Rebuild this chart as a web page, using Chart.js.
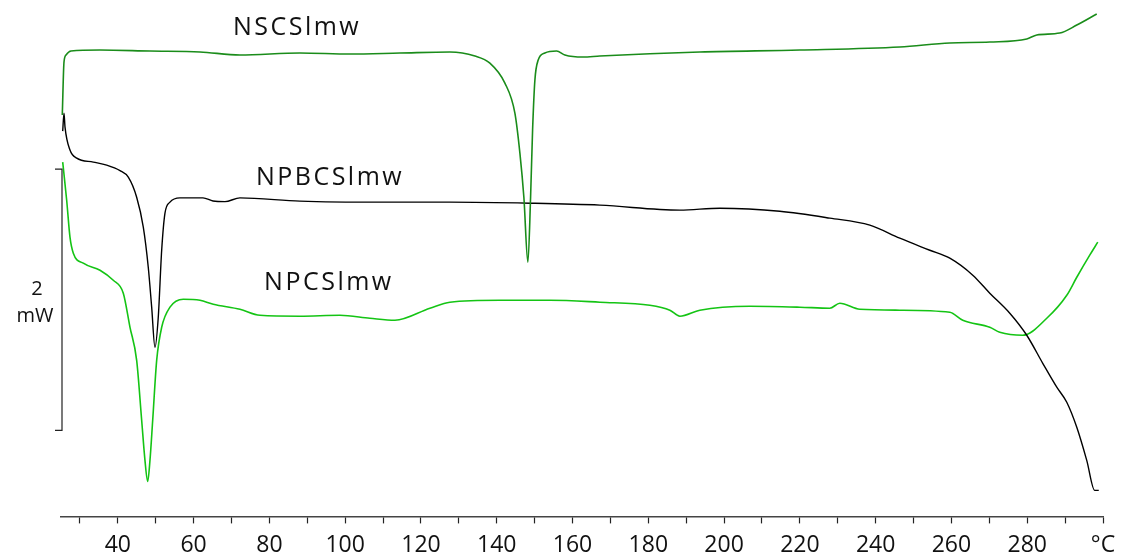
<!DOCTYPE html>
<html>
<head>
<meta charset="utf-8">
<script src="https://cdn.jsdelivr.net/npm/chart.js@4.4.1/dist/chart.umd.min.js"></script>
<style>
html,body{margin:0;padding:0;background:#fff;}
#wrap{width:1123px;height:557px;position:relative;}
</style>
</head>
<body>
<div id="wrap"><canvas id="c" width="1123" height="557"></canvas></div>
<script>
// ---- data (temperature in °C, heat flow in mW, arbitrary offset) ----
const nscsT = [25.34,25.79,26.32,27.64,35.29,48.48,61.68,72.23,88.06,101.25,114.45,127.64,134.24,138.19,142.15,144.79,146.11,147.16,148.22,148.93,149.46,150.07,150.94,152.70,155.79,157.98,162.73,167.22,193.60,219.99,246.37,259.57,270.12,279.88,282.52,288.59,293.08,298.35];
const nscsV = [3.073,3.479,3.533,3.563,3.571,3.563,3.556,3.533,3.548,3.540,3.548,3.556,3.525,3.471,3.318,3.088,2.782,2.444,1.946,2.444,2.958,3.341,3.494,3.548,3.563,3.533,3.517,3.525,3.556,3.571,3.594,3.625,3.632,3.655,3.686,3.701,3.762,3.847];

const npbcsT = [25.45,25.79,26.06,27.37,29.14,33.52,37.06,40.57,42.76,44.97,46.72,48.03,48.93,49.80,50.67,51.57,52.44,53.76,56.40,62.47,65.11,68.27,72.23,88.06,109.17,127.64,148.75,167.22,188.33,198.88,214.71,227.90,238.46,246.37,254.29,259.57,265.63,270.12,275.40,279.88,284.10,287.80,290.44,293.08,295.71,297.82,298.88];
const npbcsV = [2.950,3.088,2.981,2.805,2.743,2.713,2.690,2.648,2.598,2.444,2.215,1.908,1.602,1.295,1.525,2.038,2.322,2.406,2.439,2.439,2.415,2.410,2.439,2.414,2.406,2.406,2.398,2.383,2.345,2.360,2.337,2.284,2.230,2.130,2.038,1.977,1.847,1.709,1.556,1.387,1.172,0.989,0.874,0.682,0.429,0.199,0.199];

const npcsT = [25.45,26.50,27.37,28.25,30.88,35.29,38.80,41.44,43.21,44.97,46.29,47.16,47.88,48.48,49.20,50.25,51.57,53.76,57.27,61.68,65.18,72.23,77.51,88.06,98.61,106.53,113.13,122.36,127.64,140.83,154.02,167.22,180.41,185.69,188.33,193.60,206.79,219.99,227.90,230.54,235.82,246.37,259.57,263.00,270.12,272.76,278.83,285.16,290.44,293.08,296.50,298.62];
const npcsV = [2.713,2.421,2.138,2.015,1.939,1.885,1.808,1.709,1.448,1.195,0.736,0.429,0.268,0.429,0.736,1.195,1.448,1.602,1.663,1.655,1.625,1.586,1.540,1.533,1.540,1.517,1.502,1.594,1.640,1.655,1.655,1.640,1.617,1.579,1.533,1.579,1.609,1.602,1.594,1.632,1.586,1.579,1.563,1.502,1.448,1.410,1.387,1.517,1.693,1.831,2.000,2.100];

const seriesNames = ['NSCSlmw','NPBCSlmw','NPCSlmw'];
const labelT = [87.3, 96.0, 95.7];
const labelV = [3.739, 2.590, 1.785];
const xTicks = [30,40,50,60,70,80,90,100,110,120,130,140,150,160,170,180,190,200,210,220,230,240,250,260,270,280,290,300];
const scaleBar = [0.659, 2.659]; // 2 mW
const scaleBarText = ['2','mW'];

const pts = (t,v)=>t.map((x,i)=>({x:x,y:v[i]}));

const overlay = {
  id:'overlay',
  afterDraw(chart){
    const ctx = chart.ctx, xs = chart.scales.x, ys = chart.scales.y;
    ctx.save();
    // scale bar
    const bx = xs.getPixelForValue(25) + 1;
    const y0 = ys.getPixelForValue(scaleBar[0]), y1 = ys.getPixelForValue(scaleBar[1]);
    ctx.strokeStyle = '#222'; ctx.lineWidth = 1.2;
    ctx.beginPath();
    ctx.moveTo(bx-7, y1); ctx.lineTo(bx, y1); ctx.lineTo(bx, y0); ctx.lineTo(bx-7, y0);
    ctx.stroke();
    ctx.fillStyle = '#111';
    ctx.font = '20px "Open Sans"';
    ctx.textAlign = 'center'; ctx.textBaseline = 'middle';
    ctx.fillText(scaleBarText[0], 37, 289);
    ctx.fillText(scaleBarText[1], 35, 316);
    // series labels
    ctx.font = '25px "Open Sans"';
    ctx.letterSpacing = '2.5px';
    for (let i=0;i<seriesNames.length;i++){
      ctx.fillText(seriesNames[i], xs.getPixelForValue(labelT[i]), ys.getPixelForValue(labelV[i]));
    }
    ctx.restore();
  }
};

new Chart(document.getElementById('c'), {
  type:'line',
  data:{
    datasets:[
      {label:seriesNames[0], data:pts(nscsT,nscsV), borderColor:'#1a8c1a', borderWidth:1.6},
      {label:seriesNames[1], data:pts(npbcsT,npbcsV), borderColor:'#000000', borderWidth:1.4},
      {label:seriesNames[2], data:pts(npcsT,npcsV), borderColor:'#14c414', borderWidth:1.6}
    ]
  },
  options:{
    responsive:false,
    animation:false,
    parsing:true,
    elements:{point:{radius:0}, line:{cubicInterpolationMode:'monotone', fill:false}},
    layout:{padding:{left:61, right:20, top:0, bottom:-10}},
    plugins:{legend:{display:false}, tooltip:{enabled:false}},
    scales:{
      x:{
        type:'linear', min:25, max:300,
        afterBuildTicks(s){ s.ticks = xTicks.map(v=>({value:v})); },
        afterFit(s){ s.paddingLeft = 0; s.paddingRight = 0; },
        grid:{display:true, drawOnChartArea:false, drawTicks:true, tickLength:7, tickColor:'#222', tickWidth:1.2},
        border:{display:true, color:'#444', width:1.4},
        ticks:{
          autoSkip:false, maxRotation:0, padding:8, color:'#111',
          font:{family:'"Open Sans"', size:23},
          callback:(v)=> v===300 ? '°C' : (v%20===0 ? String(v) : '')
        }
      },
      y:{type:'linear', min:0, max:3.954, display:false}
    }
  },
  plugins:[overlay]
});
</script>
</body>
</html>
